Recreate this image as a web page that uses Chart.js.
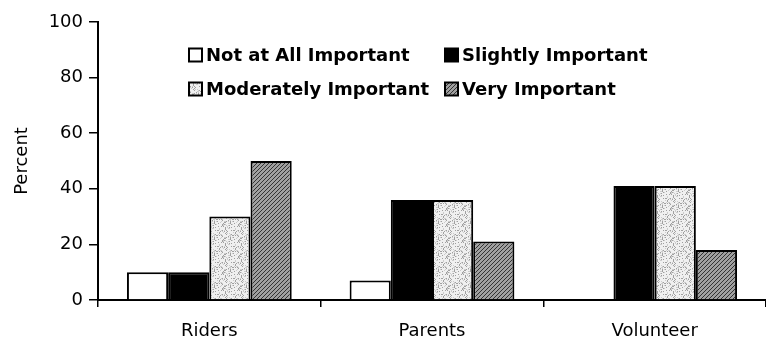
<!DOCTYPE html>
<html>
<head>
<meta charset="utf-8">
<script src="https://cdn.jsdelivr.net/npm/chart.js@4.4.1/dist/chart.umd.min.js"></script>
<style>
  html, body { margin: 0; padding: 0; background: #fff; }
  #wrap { width: 766px; height: 341px; }
</style>
</head>
<body>
<div id="wrap"><canvas id="c" width="766" height="341"></canvas></div>
<script>
// Survey groups and importance ratings (percent)
const categories = ['Riders', 'Parents', 'Volunteer'];
const seriesLabels = ['Not at All Important', 'Slightly Important', 'Moderately Important', 'Very Important'];
const notAtAll   = [10, 7, 0];
const slightly   = [10, 36, 41];
const moderately = [30, 36, 41];
const very       = [50, 21, 18];
const yTicks = [0, 20, 40, 60, 80, 100];

// Fill textures
function makeStipple() {
  const t = document.createElement('canvas');
  t.width = 16; t.height = 16;
  const g = t.getContext('2d');
  g.fillStyle = '#f0f0f0';
  g.fillRect(0, 0, 16, 16);
  for (let y = 0; y < 16; y++) {
    for (let x = 0; x < 16; x++) {
      const h = ((x * 73856093) ^ (y * 19349663)) >>> 0;
      const v = h % 7;
      if (v === 0) { g.fillStyle = '#a0a0a0'; g.fillRect(x, y, 1, 1); }
      else if (v === 3) { g.fillStyle = '#cccccc'; g.fillRect(x, y, 1, 1); }
    }
  }
  return g.createPattern(t, 'repeat');
}
function makeHatch() {
  const t = document.createElement('canvas');
  t.width = 4; t.height = 4;
  const g = t.getContext('2d');
  g.fillStyle = '#a0a0a0';
  g.fillRect(0, 0, 4, 4);
  g.fillStyle = '#333333';
  for (let i = 0; i < 4; i++) g.fillRect(3 - i, i, 1, 1);
  return g.createPattern(t, 'repeat');
}
const stipple = makeStipple();
const hatch = makeHatch();
const fills = ['#ffffff', '#000000', stipple, hatch];
const values = [notAtAll, slightly, moderately, very];

// Two-column legend drawn inside the plot area
const insideLegend = {
  id: 'insideLegend',
  afterDraw(chart, args, opts) {
    const ctx = chart.ctx;
    const a = chart.chartArea;
    ctx.save();
    ctx.font = 'bold 18px "DejaVu Sans", sans-serif';
    ctx.textBaseline = 'middle';
    chart.data.datasets.forEach((ds, i) => {
      const col = i % 2, row = Math.floor(i / 2);
      const x = a.left + opts.colX[col];
      const y = a.top + opts.rowY[row];
      const s = opts.box;
      ctx.fillStyle = ds.backgroundColor;
      ctx.fillRect(x, y - s / 2, s, s);
      ctx.lineWidth = 2;
      ctx.strokeStyle = '#000';
      ctx.strokeRect(x, y - s / 2, s, s);
      ctx.fillStyle = '#000';
      ctx.fillText(ds.label, x + s + 4, y + 1);
    });
    ctx.restore();
  }
};

const font = { family: '"DejaVu Sans", sans-serif', size: 18 };

new Chart(document.getElementById('c'), {
  type: 'bar',
  data: {
    labels: categories,
    datasets: seriesLabels.map((lab, i) => ({
      label: lab,
      data: values[i],
      backgroundColor: fills[i],
      borderColor: '#000',
      borderWidth: 2,
      categoryPercentage: 0.74,
      barPercentage: 1.0
    }))
  },
  options: {
    responsive: false,
    animation: false,
    layout: { padding: { top: 22, right: 0, left: 12, bottom: 0 } },
    plugins: {
      legend: { display: false },
      tooltip: { enabled: false },
      insideLegend: { colX: [91, 347], rowY: [33, 67], box: 13 }
    },
    scales: {
      x: {
        grid: { display: true, drawOnChartArea: false, drawTicks: true, tickLength: 7, color: '#000', lineWidth: 1.5, offset: true },
        border: { display: true, color: '#000', width: 2 },
        ticks: { color: '#000', font: font, padding: 14 },
        afterFit(s) { s.height = 41; }
      },
      y: {
        min: 0, max: 100,
        afterBuildTicks(s) { s.ticks = yTicks.map(v => ({ value: v })); },
        grid: { display: true, drawOnChartArea: false, drawTicks: true, tickLength: 9, color: '#000', lineWidth: 1.5 },
        border: { display: true, color: '#000', width: 2 },
        ticks: { color: '#000', font: font, padding: 6 },
        title: { display: true, text: 'Percent', color: '#000', font: font, padding: { top: 0, bottom: 4 } },
        afterFit(s) { s.width = 86; }
      }
    }
  },
  plugins: [insideLegend]
});
</script>
</body>
</html>
